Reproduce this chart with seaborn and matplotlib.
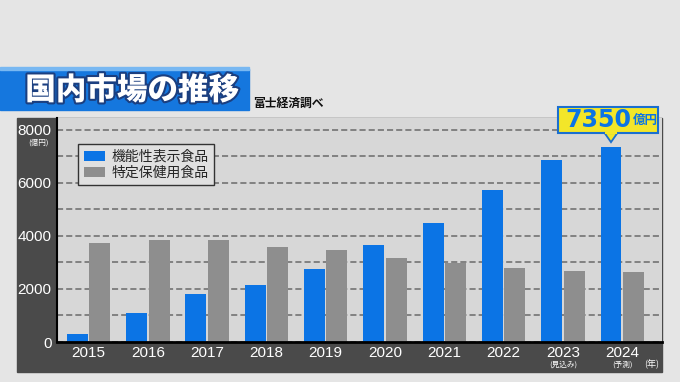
#%% MODULE BEGINS
module_name = 'domestic_market_chart'
'''
Description:
Bar chart of the domestic market (機能性表示食品 vs 特定保健用食品), 2015-2024.
'''

#%% IMPORTS ~~~~~~~~~~~~~~~~~~~~~~~~~~~~~~~~~~~~~~~~~~~~
import pandas as pd
import matplotlib
matplotlib.use("Agg")
import matplotlib.pyplot as plt
import matplotlib.patheffects as pe
from matplotlib.patches import Rectangle, Polygon
from matplotlib.ticker import MultipleLocator
from matplotlib.transforms import blended_transform_factory, ScaledTranslation
import seaborn as sns

#%% DATA ~~~~~~~~~~~~~~~~~~~~~~~~~~~~~~~~~~~~~~~~~~~~
years = ['2015', '2016', '2017', '2018', '2019', '2020', '2021', '2022', '2023', '2024']
year_notes = {'2023': '(見込み)', '2024': '(予測)'}
series_names = ['機能性表示食品', '特定保健用食品']
functional = [320, 1100, 1800, 2150, 2750, 3650, 4500, 5750, 6850, 7350]
tokuho = [3750, 3830, 3830, 3570, 3470, 3170, 2990, 2810, 2690, 2650]
y_ticks = [0, 2000, 4000, 6000, 8000]

#%% DECLARATIONS ~~~~~~~~~~~~~~~~~~~~~~~~~~~~~~~~~~~~~~~~~~~~
BLUE = '#0b74e5'
GRAY = '#8e8e8e'
PANEL = '#4a4a4a'
PLOT_BG = '#d7d7d7'
FIG_BG = '#e5e5e5'
YELLOW = '#f3e629'
CJK = ['Noto Sans CJK JP', 'DejaVu Sans']
NUM = ['Liberation Sans', 'Noto Sans CJK JP']

W, H = 680, 382


def fx(px):
    return px / W


def fy(py):
    return 1 - py / H


def main():
    sns.set_theme(style='white')
    plt.rcParams['font.family'] = CJK

    df = pd.DataFrame({
        'year': years * 2,
        'value': functional + tokuho,
        'kind': [series_names[0]] * len(years) + [series_names[1]] * len(years),
    })

    fig = plt.figure(figsize=(W / 100, H / 100), dpi=100)
    fig.patch.set_facecolor(FIG_BG)

    # dark frame behind the axes
    fig.add_artist(Rectangle((fx(17), fy(372)), fx(662) - fx(17), fy(118) - fy(372),
                             transform=fig.transFigure, color=PANEL, zorder=0))
    # title bar
    fig.add_artist(Rectangle((0, fy(110)), fx(249), fy(69) - fy(110),
                             transform=fig.transFigure, color='#1577de', zorder=0))
    fig.add_artist(Rectangle((0, fy(70)), fx(249), fy(67) - fy(70),
                             transform=fig.transFigure, color='#78b8f2', zorder=0))
    fig.text(fx(132), fy(90), '国内市場の推移', ha='center', va='center',
             fontsize=22, fontweight='black', color='white', family=CJK,
             path_effects=[pe.withStroke(linewidth=3, foreground='#1b3f80')])
    fig.text(fx(253), fy(103), '富士経済調べ', ha='left', va='center',
             fontsize=8.5, fontweight='bold', color='#111111', family=CJK)

    ax = fig.add_axes([fx(57), fy(342), fx(662) - fx(57), fy(118) - fy(342)])
    ax.set_facecolor(PLOT_BG)

    sns.barplot(data=df, x='year', y='value', hue='kind', order=years,
                hue_order=series_names, palette=[BLUE, GRAY],
                width=0.76, gap=0.07, linewidth=0, saturation=1, ax=ax)

    ax.set_xlim(-0.53, 9.67)
    ax.set_ylim(0, 8450)
    ax.set_yticks(y_ticks)
    ax.set_yticklabels([str(v) for v in y_ticks], family=NUM, fontsize=11, color='white')
    ax.yaxis.set_minor_locator(MultipleLocator(1000))
    ax.grid(axis='y', which='both', color='#6a6a6a', linestyle=(0, (4, 2)), linewidth=1.1)
    ax.set_axisbelow(True)
    ax.tick_params(axis='both', which='both', length=0)
    ax.tick_params(axis='y', pad=4)
    ax.tick_params(axis='x', pad=3)
    ax.set_xticks(range(len(years)))
    ax.set_xticklabels(years, family=NUM, fontsize=11, color='white')
    ax.set_xlabel('')
    ax.set_ylabel('')

    for side in ['top', 'right']:
        ax.spines[side].set_visible(False)
    ax.spines['left'].set_color('black')
    ax.spines['left'].set_linewidth(1.5)
    ax.spines['bottom'].set_color('black')
    ax.spines['bottom'].set_linewidth(2)

    # unit and small notes
    ax.text(-0.031, 0.888, '(億円)', transform=ax.transAxes, ha='center', va='center',
            fontsize=5.5, color='white', family=CJK)
    trans = blended_transform_factory(ax.transData, ax.transAxes)
    for i, yr in enumerate(years):
        if yr in year_notes:
            ax.text(i, -0.1, year_notes[yr], transform=trans, ha='center', va='center',
                    fontsize=5.5, color='white', family=CJK)
    ax.text(len(years) - 0.5, -0.1, '(年)', transform=trans, ha='center', va='center',
            fontsize=6.5, color='white', family=CJK)

    # legend
    handles, labels = ax.get_legend_handles_labels()
    leg = ax.legend(handles, labels, loc='upper left', bbox_to_anchor=(0.035, 0.884),
                    frameon=True, fancybox=False, edgecolor='#333333', facecolor='#e0e0e0',
                    framealpha=1, prop={'family': CJK, 'size': 10}, handlelength=1.5,
                    handleheight=0.7, handletextpad=0.5, borderpad=0.4, labelspacing=0.15,
                    borderaxespad=0)
    leg.get_frame().set_linewidth(1)

    # callout on the last blue bar (offsets in inches from the bar top)
    blue_bars = [p for p in ax.patches if p.get_height() > 0][:len(years)]
    last = blue_bars[-1]
    bx = last.get_x() + last.get_width() / 2
    by = last.get_height()
    t = fig.dpi_scale_trans + ScaledTranslation(bx, by, ax.transData)
    ax.add_patch(Polygon([(-0.07, 0.15), (0.07, 0.15), (0.0, 0.05)], closed=True,
                         transform=t, fc=YELLOW, ec='#1a6fd0', lw=1.3, clip_on=False, zorder=5))
    ax.add_patch(Rectangle((-0.525, 0.14), 1.0, 0.265, transform=t, fc=YELLOW,
                           ec='#1a6fd0', lw=1.5, clip_on=False, zorder=6))
    ax.add_patch(Rectangle((-0.06, 0.13), 0.12, 0.03, transform=t, fc=YELLOW,
                           ec='none', clip_on=False, zorder=7))
    ax.text(-0.46, 0.27, f'{functional[-1]}', transform=t, ha='left', va='center',
            fontsize=17, fontweight='heavy', color=BLUE, family='DejaVu Sans',
            clip_on=False, zorder=8)
    ax.text(0.215, 0.265, '億円', transform=t, ha='left', va='center',
            fontsize=9, fontweight='bold', color=BLUE, family=CJK, clip_on=False, zorder=8)

    fig.savefig('out.png', dpi=100, facecolor=fig.get_facecolor())


#%% SELF-RUN ~~~~~~~~~~~~~~~~~~~~~~~~~~~~~~~~~~~~~~~~~~~~
if __name__ == "__main__":
    main()
